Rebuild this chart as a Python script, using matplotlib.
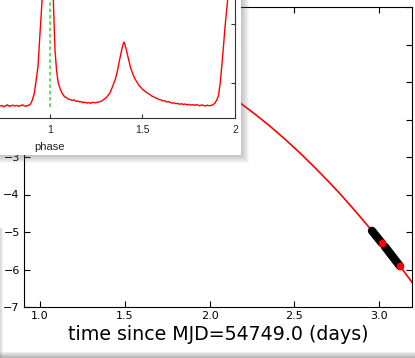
import numpy as np
import matplotlib
matplotlib.use('Agg')
import matplotlib.pyplot as plt
from matplotlib.patches import Rectangle

# main panel: model curve and the two observed stretches
curve_t = [1.802, 1.885, 2.003, 2.091, 2.180, 2.268, 2.357, 2.445, 2.534, 2.622,
           2.711, 2.782, 2.858, 2.959, 3.006, 3.065, 3.124, 3.195, 3.242]
curve_v = [-0.524, -0.714, -1.021, -1.278, -1.556, -1.856, -2.179, -2.524, -2.893, -3.283,
           -3.695, -4.04, -4.43, -4.97, -5.23, -5.56, -5.91, -6.34, -6.63]

seg1_t = [2.959, 3.018]
seg1_v = [-4.97, -5.30]
seg2_t = [3.035, 3.124]
seg2_v = [-5.39, -5.91]
dot_t = [3.018, 3.124]
dot_v = [-5.30, -5.91]

# inset: pulse profile (read in pieces)
base1_phase = [0.70, 0.71, 0.72, 0.73, 0.74, 0.75, 0.76, 0.77, 0.78, 0.79,
               0.80, 0.81, 0.82, 0.83, 0.84, 0.85, 0.86, 0.87, 0.88, 0.89]
base1_flux = [0.62, 0.605, 0.63, 0.615, 0.625, 0.60, 0.62, 0.635, 0.61, 0.62,
              0.63, 0.615, 0.625, 0.61, 0.62, 0.635, 0.62, 0.61, 0.625, 0.635]
peak1_phase = [0.895, 0.905, 0.915, 0.925, 0.935, 0.945, 0.955, 0.965, 0.985,
               1.005, 1.018, 1.027, 1.036, 1.045, 1.058, 1.072, 1.08]
peak1_flux = [0.65, 0.72, 0.83, 1.05, 1.28, 1.8, 2.3, 2.85, 3.3,
              3.0, 2.41, 1.56, 1.2, 1.0, 0.88, 0.80, 0.77]
base2_phase = [1.09, 1.10, 1.11, 1.12, 1.13, 1.14, 1.15, 1.16, 1.17, 1.18, 1.19,
               1.20, 1.21, 1.22, 1.23, 1.24, 1.25, 1.26, 1.27, 1.28, 1.29, 1.30]
base2_flux = [0.755, 0.73, 0.725, 0.71, 0.72, 0.695, 0.70, 0.685, 0.69, 0.67, 0.68,
              0.665, 0.675, 0.66, 0.68, 0.67, 0.675, 0.68, 0.69, 0.70, 0.725, 0.745]
peak2_phase = [1.31, 1.324, 1.34, 1.352, 1.362, 1.375, 1.387, 1.395, 1.40, 1.405,
               1.41, 1.423, 1.435, 1.45, 1.46, 1.47, 1.48, 1.49, 1.50]
peak2_flux = [0.78, 0.836, 0.96, 1.06, 1.175, 1.38, 1.564, 1.66, 1.70, 1.66,
              1.60, 1.43, 1.27, 1.14, 1.07, 1.02, 0.97, 0.935, 0.90]
base3_phase = [1.51, 1.52, 1.53, 1.54, 1.55, 1.56, 1.57, 1.58, 1.59, 1.60,
               1.61, 1.62, 1.63, 1.64, 1.65, 1.66, 1.67, 1.68, 1.69, 1.70,
               1.71, 1.72, 1.73, 1.74, 1.75, 1.76, 1.77, 1.78, 1.79, 1.80,
               1.81, 1.82, 1.83, 1.84, 1.85, 1.86, 1.87, 1.88]
base3_flux = [0.875, 0.85, 0.83, 0.81, 0.785, 0.77, 0.755, 0.74, 0.725, 0.72,
              0.70, 0.705, 0.685, 0.69, 0.675, 0.665, 0.67, 0.655, 0.66, 0.645,
              0.655, 0.64, 0.65, 0.635, 0.645, 0.63, 0.64, 0.625, 0.64, 0.63,
              0.62, 0.635, 0.625, 0.615, 0.63, 0.62, 0.625, 0.635]
peak3_phase = [1.89, 1.90, 1.91, 1.92, 1.928, 1.937, 1.946, 1.96, 1.975, 2.0]
peak3_flux = [0.66, 0.71, 0.78, 1.0, 1.276, 1.6, 1.954, 2.41, 2.9, 3.3]

phase = base1_phase + peak1_phase + base2_phase + peak2_phase + base3_phase + peak3_phase
flux = base1_flux + peak1_flux + base2_flux + peak2_flux + base3_flux + peak3_flux

W, H = 415, 358
fig = plt.figure(figsize=(W / 100, H / 100), dpi=100)


def box(x0, y0, x1, y1):
    # pixel box (top-left origin) -> figure fraction
    return [x0 / W, 1 - y1 / H, (x1 - x0) / W, (y1 - y0) / H]


# window shadows
for i in range(6):
    fig.patches.append(Rectangle((0, 0), 1, (6 - i) / H, transform=fig.transFigure,
                                 facecolor='#808080', alpha=0.12, edgecolor='none', zorder=0))
for i in range(3):
    fig.patches.append(Rectangle((0, 0), (3 - i) / W, 1 - 228 / H, transform=fig.transFigure,
                                 facecolor='#909090', alpha=0.12, edgecolor='none', zorder=0))

ax = fig.add_axes(box(24, 7, 412, 307), zorder=1)
ax.plot(curve_t, curve_v, color='red', lw=1.2)
ax.plot(seg1_t, seg1_v, color='black', lw=6, solid_capstyle='round')
ax.plot(seg2_t, seg2_v, color='black', lw=6, solid_capstyle='round')
ax.plot(dot_t, dot_v, 'o', color='red', ms=4.5, mec='red')
ax.set_xlim(0.905, 3.195)
ax.set_ylim(-7, 1)
ax.set_xticks([1.0, 1.5, 2.0, 2.5, 3.0])
ax.set_yticks(range(-7, 2))
ax.tick_params(direction='in', top=True, right=True, length=4, width=0.8,
               labelsize=8, pad=3)
ax.set_xlabel('time since MJD=54749.0 (days)', fontsize=13.7, labelpad=3)

# inset panel with soft shadow
for i in range(1, 9):
    fig.patches.append(Rectangle((-10 / W, 1 - (155 + i) / H), (251 + i) / W, (155 + i + 20) / H,
                                 transform=fig.transFigure, facecolor='#606060',
                                 alpha=0.05, edgecolor='none', zorder=2))
fig.patches.append(Rectangle((-10 / W, 1 - 155 / H), 251 / W, 175 / H,
                             transform=fig.transFigure, facecolor='white',
                             edgecolor='none', zorder=2.5))

ins = fig.add_axes(box(-135, -80, 235, 118.3), zorder=3)
ins.patch.set_alpha(0)
ins.plot(phase, flux, color='red', lw=1)
ins.vlines(1.0, 0.6, 4, colors='#55dd55', linestyles=(0, (2, 1.5)), lw=1.3)
ins.set_xlim(0, 2)
ins.set_ylim(0.407, 3.77)
ins.set_xticks([0, 0.5, 1, 1.5, 2])
ins.set_xticklabels(['', '', '1', '1.5', '2'])
ins.set_yticks([1, 2, 3])
for s in ins.spines.values():
    s.set_color('#333333')
ins.tick_params(direction='in', right=True, top=True, length=3, width=0.8,
                labelsize=7.5, labelcolor='#222222', color='#333333', pad=5)
for lab in ins.get_xticklabels():
    lab.set_family('Liberation Sans')
ins.set_yticklabels([])
ins.set_xlabel('phase', fontsize=8, family='Liberation Sans', color='#222222', labelpad=5)

fig.savefig('out.png', dpi=100)
